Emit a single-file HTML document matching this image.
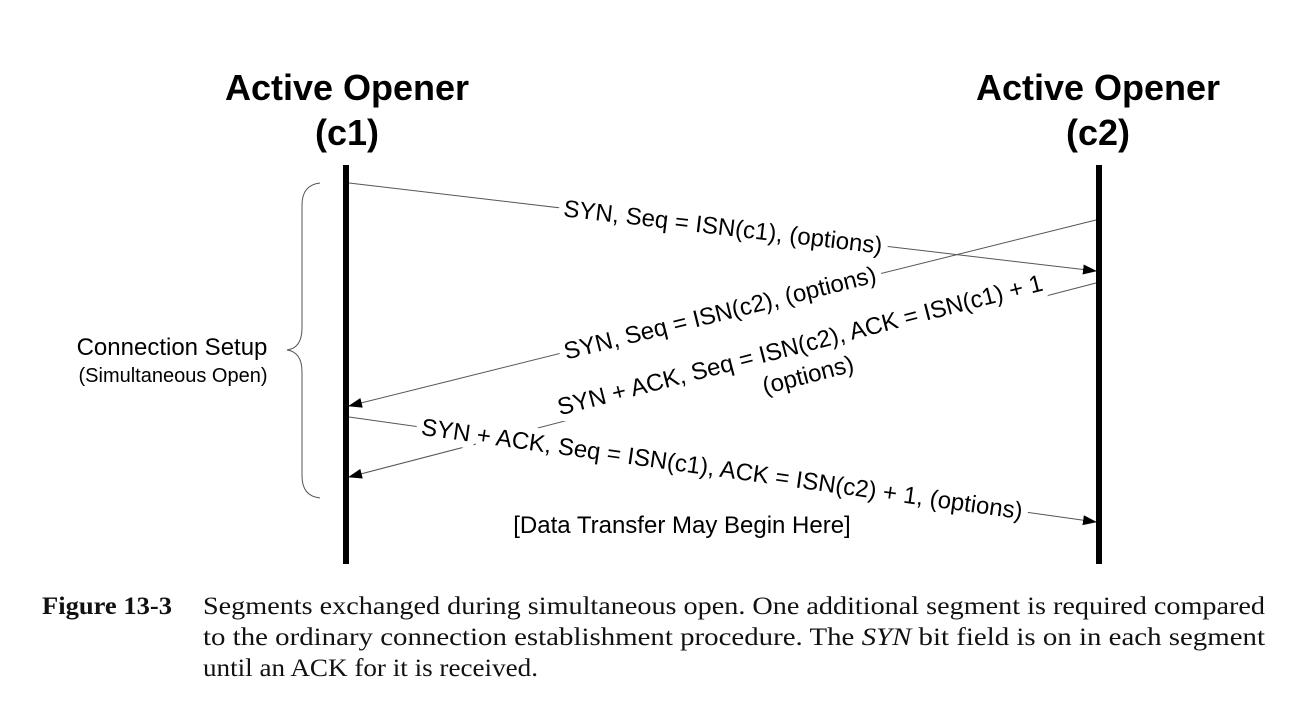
<!DOCTYPE html>
<html><head><meta charset="utf-8"><style>
html,body{margin:0;padding:0;background:#fff;}
svg{display:block;}
.t{font-family:"Liberation Sans",Arial,sans-serif;fill:#000;}
.lbl{font-family:"Liberation Sans",Arial,sans-serif;font-size:24px;fill:#000;stroke:#fff;stroke-width:14px;paint-order:stroke;stroke-linejoin:round;}
.cap{font-family:"Liberation Serif","Times New Roman",serif;font-size:25px;fill:#111;}
</style></head><body>
<svg width="1292" height="702" viewBox="0 0 1292 702" xmlns="http://www.w3.org/2000/svg">
<defs><marker id="ah" markerWidth="14" markerHeight="10" refX="13" refY="5" orient="auto" markerUnits="userSpaceOnUse"><path d="M0,0 L14,5 L0,10 z" fill="#000"/></marker></defs>
<g>
<text class="t" x="347" y="100" font-size="36" font-weight="bold" text-anchor="middle">Active Opener</text>
<text class="t" x="347" y="145" font-size="36" font-weight="bold" text-anchor="middle">(c1)</text></g>
<g>
<text class="t" x="1098" y="100" font-size="36" font-weight="bold" text-anchor="middle">Active Opener</text>
<text class="t" x="1098" y="145" font-size="36" font-weight="bold" text-anchor="middle">(c2)</text></g>
<line x1="346" y1="165" x2="346" y2="564" stroke="#000" stroke-width="6"/>
<line x1="1099" y1="165" x2="1099" y2="564" stroke="#000" stroke-width="6"/>
<g stroke="#555" stroke-width="1" fill="none">
<line x1="349" y1="183" x2="1096" y2="271" marker-end="url(#ah)"/>
<line x1="1096" y1="220" x2="349" y2="406" marker-end="url(#ah)"/>
<line x1="1096" y1="283" x2="349" y2="477" marker-end="url(#ah)"/>
<line x1="349" y1="417" x2="1096" y2="522" marker-end="url(#ah)"/>
</g>
<rect x="-245" y="-12" width="490" height="50" fill="#fff" transform="translate(800,345) rotate(-14.5)"/>
<text class="lbl" text-anchor="middle" transform="translate(723,227) rotate(6.7)" dy="8">SYN, Seq = ISN(c1), (options)</text>
<text class="lbl" text-anchor="middle" transform="translate(720,313) rotate(-14)" dy="8">SYN, Seq = ISN(c2), (options)</text>
<text class="lbl" text-anchor="middle" transform="translate(800,345) rotate(-14.5)" dy="8">SYN + ACK, Seq = ISN(c2), ACK = ISN(c1) + 1</text>
<text class="lbl" text-anchor="middle" transform="translate(808,375) rotate(-14.5)" dy="8">(options)</text>
<text class="lbl" text-anchor="middle" transform="translate(722,469) rotate(8)" dy="8">SYN + ACK, Seq = ISN(c1), ACK = ISN(c2) + 1, (options)</text>
<text class="t" x="682" y="533" font-size="24" text-anchor="middle">[Data Transfer May Begin Here]</text>
<path d="M320,183 Q302,185 302,205 L302,328 Q302,348 287,350 Q302,352 302,372 L302,476 Q302,496 320,498" fill="none" stroke="#555" stroke-width="1"/>
<text class="t" x="172" y="355" font-size="24" text-anchor="middle">Connection Setup</text>
<text class="t" x="173" y="382" font-size="20" text-anchor="middle">(Simultaneous Open)</text>
<g>
<text class="cap" x="42" y="614" font-weight="bold" textLength="130" lengthAdjust="spacingAndGlyphs">Figure 13-3</text>
<text class="cap" x="203" y="614" textLength="1062" lengthAdjust="spacingAndGlyphs">Segments exchanged during simultaneous open. One additional segment is required compared</text>
<text class="cap" x="203" y="645" textLength="1062" lengthAdjust="spacingAndGlyphs">to the ordinary connection establishment procedure. The <tspan font-style="italic">SYN</tspan> bit field is on in each segment</text>
<text class="cap" x="203" y="676" textLength="335" lengthAdjust="spacingAndGlyphs">until an ACK for it is received.</text>
</g>
</svg>
</body></html>
